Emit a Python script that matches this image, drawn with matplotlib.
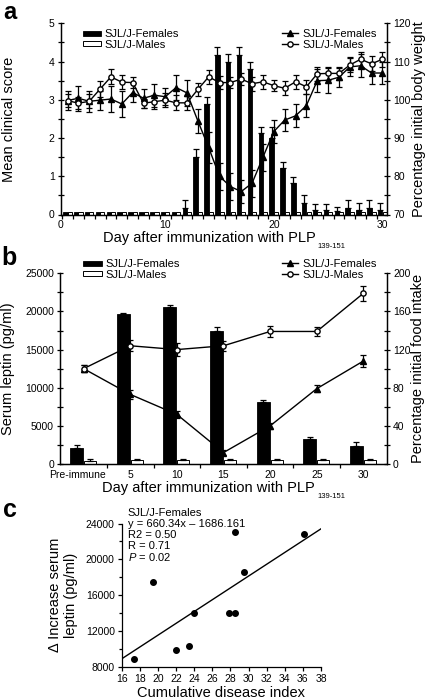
import numpy as np
import matplotlib
matplotlib.use('Agg')
import matplotlib.pyplot as plt
import matplotlib.transforms as mtransforms
from matplotlib.ticker import MultipleLocator, FixedLocator
from matplotlib.lines import Line2D

plt.rcParams['font.family'] = ['Liberation Sans', 'DejaVu Sans']
plt.rcParams['mathtext.fontset'] = 'custom'
plt.rcParams['mathtext.it'] = 'Liberation Sans:italic'

# ---- panel a: clinical score (bars) and body weight (lines), days 1-30
days = list(range(1, 31))
score_female = [0.07, 0.07, 0.07, 0.07, 0.07, 0.07, 0.07, 0.07, 0.07, 0.07,
                0.07, 0.17, 1.50, 2.88, 4.18, 4.00, 4.18, 3.80, 2.12, 2.00,
                1.21, 0.82, 0.30, 0.12, 0.12, 0.10, 0.17, 0.12, 0.17, 0.12]
score_female_err = [0, 0, 0, 0, 0, 0, 0, 0, 0, 0,
                    0, 0.22, 0.20, 0.20, 0.20, 0.19, 0.20, 0.20, 0.17, 0.28,
                    0.17, 0.17, 0.20, 0.16, 0.16, 0.10, 0.20, 0.18, 0.20, 0.18]
score_male = [0.07, 0.07, 0.07, 0.07, 0.07, 0.07, 0.07, 0.07, 0.07, 0.07,
              0.07, 0.07, 0.07, 0.07, 0.07, 0.07, 0.07, 0.07, 0.07, 0.07,
              0.07, 0.07, 0.07, 0.07, 0.07, 0.07, 0.07, 0.07, 0.07, 0.07]
weight_female = [99.8, 100.4, 99.6, 99.9, 100.2, 98.9, 101.9, 100.4, 101.2, 100.8,
                 103.2, 101.8, 94.5, 87.5, 80.0, 77.3, 76.0, 78.2, 85.0, 91.7,
                 94.7, 95.8, 98.5, 105.0, 105.1, 105.9, 108.6, 108.9, 107.0, 107.0]
weight_female_err = [2.5, 3.3, 2.8, 2.5, 3.5, 3.5, 2.5, 2.5, 3.0, 2.2,
                     3.2, 3.5, 3.2, 4.0, 3.5, 3.5, 3.0, 3.5, 3.5, 3.0,
                     2.8, 3.0, 3.0, 3.0, 3.2, 2.5, 2.5, 3.0, 3.0, 3.0]
weight_male = [99.8, 99.1, 99.6, 102.8, 106.0, 104.6, 104.5, 99.1, 99.5, 99.9,
               99.2, 99.2, 102.7, 106.0, 104.5, 104.5, 105.4, 104.2, 104.7, 103.7,
               103.0, 104.7, 103.4, 106.8, 106.9, 106.9, 109.1, 110.6, 109.4, 110.6]
weight_male_err = [1.8, 1.5, 1.8, 2.0, 2.0, 1.8, 1.5, 1.2, 1.8, 1.8,
                   2.0, 1.8, 1.8, 1.8, 1.8, 1.5, 1.5, 1.8, 1.8, 1.5,
                   1.8, 1.8, 1.8, 1.8, 1.8, 1.8, 1.8, 2.0, 2.0, 2.0]

# ---- panel b: serum leptin (bars) and food intake (lines)
timepoints = ['Pre-immune', '5', '10', '15', '20', '25', '30']
leptin_female = [2050, 19600, 20600, 17500, 8100, 3250, 2400]
leptin_female_err = [420, 250, 300, 400, 300, 350, 450]
leptin_male = [450, 500, 480, 500, 520, 550, 520]
leptin_male_err = [200, 120, 150, 150, 130, 150, 150]
food_female = [100, 73, 52, 12, 40, 79, 108]
food_female_err = [4, 5, 4, 3, 3, 4, 6]
food_male = [100, 124, 120, 124, 139, 139, 179]
food_male_err = [4, 6, 7, 5, 6, 5, 8]

# ---- panel c: cumulative disease index vs increase in leptin
cdi = [17.4, 19.5, 22.0, 23.4, 24.0, 27.8, 28.5, 28.5, 29.5, 36.1]
delta_leptin = [8900, 17450, 9850, 10300, 14000, 14000, 14000, 23050, 18600, 22800]
fit_slope = 660.34
fit_intercept = -1686.161

W, H = 435, 699
fig = plt.figure(figsize=(W / 100, H / 100), dpi=100)

tick_fs = 7.5
label_fs = 10.5
leg_fs = 8
err_kw = dict(elinewidth=0.9, capsize=2.2, capthick=0.9)


def px_axes(left, top, right, bottom):
    return [left / W, 1 - bottom / H, (right - left) / W, (bottom - top) / H]


def style_axes(ax):
    ax.spines['top'].set_visible(False)
    ax.tick_params(labelsize=tick_fs, width=0.9, pad=2)
    for s in ax.spines.values():
        s.set_linewidth(0.9)


# =========================== panel a
ax_a = fig.add_axes(px_axes(61, 23.3, 387.3, 214.5))
ax_a2 = ax_a.twinx()
d = np.array(days)
ax_a.bar(d - 0.2, score_female, width=0.4, color='black', edgecolor='black',
         linewidth=0.6, label='SJL/J-Females')
ax_a.bar(d + 0.2, score_male, width=0.38, color='white', edgecolor='black',
         linewidth=0.7, label='SJL/J-Males')
has_err = np.array(score_female_err) > 0
ax_a.errorbar((d - 0.2)[has_err], np.array(score_female)[has_err],
              yerr=[np.zeros(has_err.sum()), np.array(score_female_err)[has_err]],
              fmt='none', ecolor='black', **err_kw)

ax_a2.errorbar(days, weight_female, yerr=weight_female_err, fmt='-^', color='black',
               mfc='black', mec='black', ms=4, lw=1, **err_kw)
ax_a2.errorbar(days, weight_male, yerr=weight_male_err, fmt='-o', color='black',
               mfc='white', mec='black', ms=3.8, lw=1, **err_kw)

ax_a.set_xlim(0.4, 30.45)
ax_a.set_ylim(0, 5)
ax_a2.set_ylim(70, 120)
ax_a.set_xticks([0.4, 10, 20, 30], labels=['0', '10', '20', '30'])
ax_a.xaxis.set_minor_locator(FixedLocator(np.arange(0.5, 30.5, 1)))
ax_a.yaxis.set_major_locator(MultipleLocator(1))
ax_a.yaxis.set_minor_locator(MultipleLocator(0.5))
ax_a2.yaxis.set_major_locator(MultipleLocator(10))
ax_a2.yaxis.set_minor_locator(MultipleLocator(5))

# =========================== panel b
ax_b = fig.add_axes(px_axes(60.3, 273.3, 386.7, 464))
ax_b2 = ax_b.twinx()
xb = np.arange(len(timepoints))
ax_b.bar(xb - 0.15, leptin_female, width=0.28, color='black', edgecolor='black',
         linewidth=0.6, label='SJL/J-Females')
ax_b.bar(xb + 0.14, leptin_male, width=0.26, color='white', edgecolor='black',
         linewidth=0.7, label='SJL/J-Males')
ax_b.errorbar(xb - 0.15, leptin_female, yerr=[np.zeros(len(xb)), leptin_female_err],
              fmt='none', ecolor='black', **err_kw)
ax_b.errorbar(xb + 0.14, leptin_male, yerr=[np.zeros(len(xb)), leptin_male_err],
              fmt='none', ecolor='black', **err_kw)
ax_b2.errorbar(xb, food_female, yerr=food_female_err, fmt='-^', color='black',
               mfc='black', mec='black', ms=4, lw=1, **err_kw)
ax_b2.errorbar(xb, food_male, yerr=food_male_err, fmt='-o', color='black',
               mfc='white', mec='black', ms=3.8, lw=1, **err_kw)

ax_b.set_xlim(-0.5, len(timepoints) - 0.5)
ax_b.set_ylim(0, 25000)
ax_b2.set_ylim(0, 200)
ax_b.set_xticks(xb, labels=timepoints)
ax_b.xaxis.set_minor_locator(FixedLocator(xb[:-1] + 0.5))
ax_b.yaxis.set_major_locator(MultipleLocator(5000))
ax_b.yaxis.set_minor_locator(MultipleLocator(2500))
ax_b2.yaxis.set_major_locator(MultipleLocator(40))
ax_b2.yaxis.set_minor_locator(MultipleLocator(20))

for ax, ax2, yl, yr in [(ax_a, ax_a2, 'Mean clinical score', 'Percentage initial body weight'),
                        (ax_b, ax_b2, 'Serum leptin (pg/ml)', 'Percentage initial food intake')]:
    style_axes(ax)
    style_axes(ax2)
    ax.tick_params(axis='x', which='major', length=0, pad=4)
    ax.tick_params(axis='x', which='minor', length=3, direction='out', width=0.9)
    ax.tick_params(axis='y', which='both', length=5, direction='inout', width=0.9)
    ax2.tick_params(axis='y', which='both', length=5, direction='inout', width=0.9)
    ax.set_ylabel(yl, fontsize=label_fs)
    ax.yaxis.set_label_coords(-0.138, 0.5)
    ax2.set_ylabel(yr, fontsize=label_fs)
    ax2.yaxis.set_label_coords(1.075, 0.5)
    ax.set_xlabel('Day after immunization with PLP', fontsize=label_fs, labelpad=1)
    ax.xaxis.label.set_x(0.455)

    ax.legend(loc='center left', frameon=False, fontsize=leg_fs,
              handlelength=1.7, handleheight=0.35, handletextpad=0.3,
              labelspacing=0.05, borderpad=0, borderaxespad=0)
    line_handles = [Line2D([], [], color='black', marker='^', ms=4, mfc='black', lw=1),
                    Line2D([], [], color='black', marker='o', ms=3.8, mfc='white', lw=1)]
    ax2.legend(line_handles, ['SJL/J-Females', 'SJL/J-Males'], loc='center left',
               frameon=False, fontsize=leg_fs, handlelength=1.5,
               handletextpad=0.4, labelspacing=0.05, borderpad=0,
               borderaxespad=0)

ax_a.get_legend().set_bbox_to_anchor((0.066, 0.915), transform=ax_a.transAxes)
ax_a2.get_legend().set_bbox_to_anchor((0.676, 0.915), transform=ax_a2.transAxes)
ax_b.get_legend().set_bbox_to_anchor((0.069, 1.02), transform=ax_b.transAxes)
ax_b2.get_legend().set_bbox_to_anchor((0.678, 1.02), transform=ax_b2.transAxes)

# the long "Pre-immune" label sits a little left of its bar pair
pre_label = ax_b.get_xticklabels()[0]
pre_label.set_transform(pre_label.get_transform() +
                        mtransforms.ScaledTranslation(-6 / 100, 0, fig.dpi_scale_trans))

# =========================== panel c
ax_c = fig.add_axes(px_axes(121.7, 523.5, 321, 666.7))
ax_c.scatter(cdi, delta_leptin, s=16, color='black', zorder=3, clip_on=False)
fit_x = np.array([16, 38])
ax_c.plot(fit_x, fit_slope * fit_x + fit_intercept, color='black', lw=1)
ax_c.set_xlim(16, 38)
ax_c.set_ylim(8000, 24000)
ax_c.xaxis.set_major_locator(MultipleLocator(2))
ax_c.yaxis.set_major_locator(MultipleLocator(4000))
ax_c.yaxis.set_minor_locator(MultipleLocator(2000))
ax_c.spines['top'].set_visible(False)
ax_c.spines['right'].set_visible(False)
for s in ax_c.spines.values():
    s.set_linewidth(0.9)
ax_c.tick_params(labelsize=tick_fs, width=0.9, length=3, direction='out', pad=2)
ax_c.tick_params(which='minor', length=2, width=0.9)
ax_c.set_xlabel('Cumulative disease index', fontsize=label_fs, labelpad=2)
ax_c.set_ylabel('\u0394 Increase serum\nleptin (pg/ml)', fontsize=label_fs)
ax_c.yaxis.set_label_coords(-0.22, 0.5)

stats_lines = ['SJL/J-Females', 'y = 660.34x \u2013 1686.161', 'R2 = 0.50', 'R = 0.71',
               '$P$ = 0.02']
for i, t in enumerate(stats_lines):
    ax_c.text(0.03, 1.071 - i * 0.076, t, transform=ax_c.transAxes, fontsize=8,
              va='center', ha='left')

# panel letters
fig.text(3 / W, 1 - 1 / H, 'a', fontsize=17, fontweight='bold', va='top')
fig.text(1 / W, 1 - 265 / H, 'b', fontsize=18, fontweight='bold', va='baseline')
fig.text(3 / W, 1 - 516.7 / H, 'c', fontsize=18, fontweight='bold', va='baseline')

# subscripts after the PLP labels
fig.canvas.draw()
for ax in (ax_a, ax_b):
    bb = ax.xaxis.label.get_window_extent()
    fig.text((bb.x1 + 2) / W, (bb.y0 - 3) / H, '139-151', fontsize=5.5, va='baseline')

fig.savefig('out.png', dpi=100)
